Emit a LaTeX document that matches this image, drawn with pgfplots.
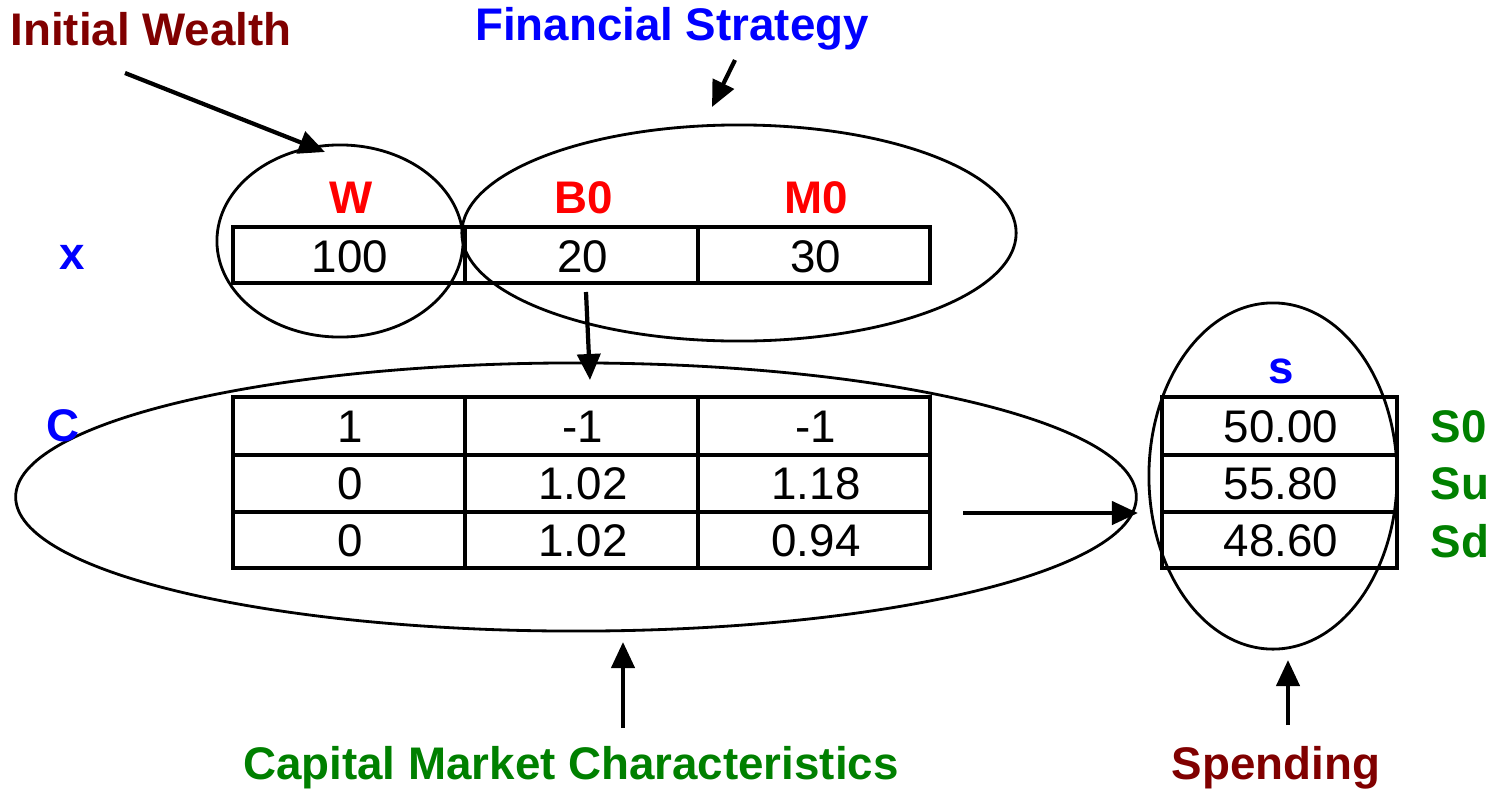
\documentclass[border=0pt]{standalone}
\usepackage{pgfplots}
\pgfplotsset{compat=1.18}
\usepackage{fontspec}
\setmainfont{Liberation Sans}
\usetikzlibrary{arrows.meta}
\definecolor{dred}{HTML}{800000}
\definecolor{lblue}{HTML}{0000FF}
\definecolor{lred}{HTML}{FF0000}
\definecolor{lgreen}{HTML}{008000}
\begin{document}
\begin{tikzpicture}[
  lab/.style={font=\fontsize{13}{15}\selectfont\bfseries, inner sep=0pt},
  arr/.style={line width=1.2pt, -{Triangle[length=2.6mm,width=2.3mm]}},
  ell/.style={line width=0.8pt},
  tab/.style={line width=1.4pt}]
\begin{axis}[
  x=0.01cm, y=0.01cm,
  xmin=0, xmax=1497, ymin=0, ymax=789,
  y dir=reverse,
  hide axis, clip=false, scale only axis,
  nodes near coords, point meta=explicit symbolic,
  nodes near coords align={center},
  every node near coord/.append style={font=\fontsize{13}{15}\selectfont, anchor=center, inner sep=0pt, text=black},
]
\path (axis cs:0,0) rectangle (axis cs:1497,789);

% ellipses
\draw[ell] (axis cs:340,241) ellipse [x radius=1.23cm, y radius=0.96cm];
\draw[ell] (axis cs:739,233) ellipse [x radius=2.77cm, y radius=1.08cm];
\draw[ell] (axis cs:576,497) ellipse [x radius=5.60cm, y radius=1.34cm];
\draw[ell] (axis cs:1273,476) ellipse [x radius=1.24cm, y radius=1.73cm];

% top table
\draw[tab] (axis cs:233,227) rectangle (axis cs:930,283);
\draw[tab] (axis cs:465,227) -- (axis cs:465,283);
\draw[tab] (axis cs:698,227) -- (axis cs:698,283);

% middle table
\draw[tab] (axis cs:233,397) rectangle (axis cs:930,568);
\draw[tab] (axis cs:465,397) -- (axis cs:465,568);
\draw[tab] (axis cs:698,397) -- (axis cs:698,568);
\draw[tab] (axis cs:233,455) -- (axis cs:930,455);
\draw[tab] (axis cs:233,512) -- (axis cs:930,512);

% right table
\draw[tab] (axis cs:1162,397) rectangle (axis cs:1397,568);
\draw[tab] (axis cs:1162,455) -- (axis cs:1397,455);
\draw[tab] (axis cs:1162,512) -- (axis cs:1397,512);

% cell values
\addplot[draw=none, mark=none] coordinates {
 (350,257)[100] (583,257)[20] (816,257)[30]
};
\addplot[draw=none, mark=none] coordinates {
 (350,427)[1] (583,427)[-1] (816,427)[-1]
 (350,484)[0] (583,484)[1.02] (816,484)[1.18]
 (350,541)[0] (583,541)[1.02] (816,541)[0.94]
};
\addplot[draw=none, mark=none] coordinates {
 (1281,427)[50.00] (1281,484)[55.80] (1281,541)[48.60]
};

% arrows
\draw[arr] (axis cs:125,73) -- (axis cs:325,152);
\draw[arr] (axis cs:735,60) -- (axis cs:712,107);
\draw[arr] (axis cs:586,292) -- (axis cs:590,380);
\draw[arr] (axis cs:963,513) -- (axis cs:1138,513);
\draw[arr] (axis cs:623,728) -- (axis cs:623,642);
\draw[arr] (axis cs:1288,725) -- (axis cs:1288,660);

% labels
\node[lab, text=dred] at (axis cs:151,29) {Initial Wealth};
\node[lab, text=lblue] at (axis cs:672,29) {Financial Strategy};
\node[lab, text=lred] at (axis cs:351,198) {W};
\node[lab, text=lred] at (axis cs:584,198) {B0};
\node[lab, text=lred] at (axis cs:816,198) {M0};
\node[lab, text=lblue] at (axis cs:72,257) {x};
\node[lab, text=lblue] at (axis cs:63,426) {C};
\node[lab, text=lblue] at (axis cs:1281,371) {s};
\node[lab, text=lgreen, anchor=west] at (axis cs:1430,427) {S0};
\node[lab, text=lgreen, anchor=west] at (axis cs:1430,484) {Su};
\node[lab, text=lgreen, anchor=west] at (axis cs:1430,541) {Sd};
\node[lab, text=lgreen] at (axis cs:571,768) {Capital Market Characteristics};
\node[lab, text=dred] at (axis cs:1276,768) {Spending};
\end{axis}
\end{tikzpicture}
\end{document}
